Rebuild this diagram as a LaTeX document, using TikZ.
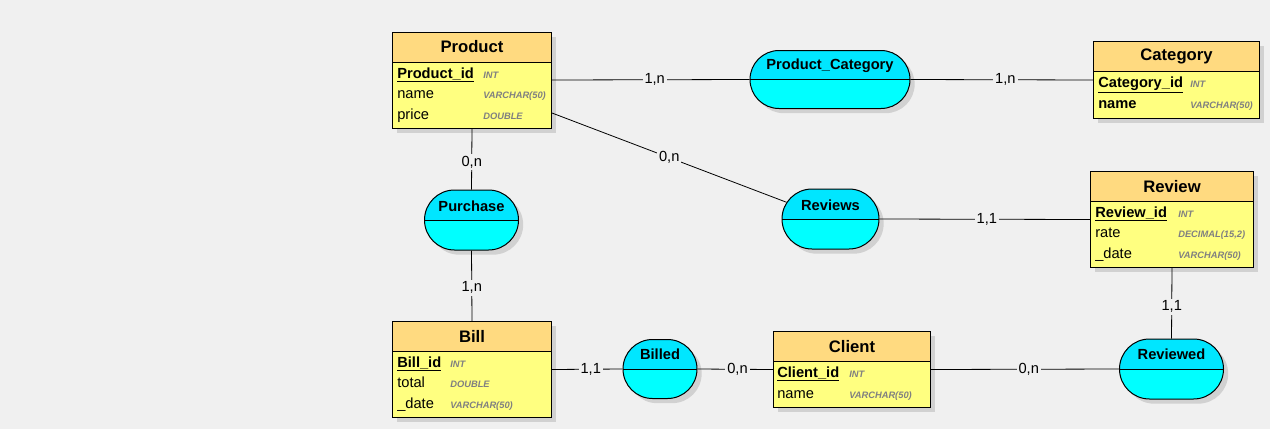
\documentclass[tikz,border=0pt]{standalone}
\usepackage{fontspec}
\setmainfont{Liberation Sans}
\usetikzlibrary{positioning,shapes.misc,shadows}
\definecolor{bgc}{RGB}{240,240,240}
\definecolor{headc}{RGB}{255,218,128}
\definecolor{bodyc}{RGB}{255,255,128}
\definecolor{reltop}{RGB}{0,230,255}
\definecolor{relbot}{RGB}{0,255,255}
\definecolor{typec}{RGB}{128,128,128}

\begin{document}
\begin{tikzpicture}[x=0.75pt,y=-0.75pt,
  entity/.style={rectangle, draw, fill=bodyc, anchor=north west, inner sep=0pt, line width=0.75pt,
    drop shadow={shadow xshift=3.5pt,shadow yshift=-3.5pt,fill=black!18,opacity=1}},
  enthead/.style={rectangle, draw, fill=headc, anchor=north, inner sep=0pt, minimum height=22.5pt,
    line width=0.75pt, font=\fontsize{12.5}{14}\selectfont\bfseries},
  rel/.style={rounded rectangle, draw, fill=relbot, inner sep=0pt, line width=0.75pt,
    drop shadow={shadow xshift=3.5pt,shadow yshift=-3.5pt,fill=black!18,opacity=1},
    path picture={\fill[reltop] (path picture bounding box.north west) rectangle (path picture bounding box.east);
      \draw[line width=0.75pt] (path picture bounding box.west) -- (path picture bounding box.east);}},
  reltext/.style={inner sep=0pt, font=\fontsize{11}{13}\selectfont\bfseries},
  attr/.style={anchor=base west, inner sep=0pt, font=\fontsize{11}{13}\selectfont},
  atype/.style={anchor=base west, inner sep=0pt, text=typec, font=\fontsize{7}{8}\selectfont\bfseries\itshape},
  card/.style={fill=bgc, inner sep=1.5pt, font=\fontsize{11}{13}\selectfont},
  link/.style={line width=0.6pt}]

\fill[bgc] (0,0) rectangle (1270,429);
\useasboundingbox (0,0) rectangle (1270,429);

% entities
\node[entity, minimum width=119.25pt, minimum height=72pt] (product) at (392,31.5) {};
\node[enthead, minimum width=119.25pt] (productH) at (product.north) {Product};
\node[attr] (productA1) at (397,78) {\textbf{\underline{Product\_id}}};
\node[attr] (productA2) at (397,98) {name};
\node[attr] (productA3) at (397,119) {price};
\node[atype] (productT1) at (483,78) {INT};
\node[atype] (productT2) at (483,98) {VARCHAR(50)};
\node[atype] (productT3) at (483,119) {DOUBLE};

\node[entity, minimum width=124.5pt, minimum height=57.75pt] (category) at (1093,41) {};
\node[enthead, minimum width=124.5pt] (categoryH) at (category.north) {Category};
\node[attr] (categoryA1) at (1098,87) {\textbf{\underline{Category\_id}}};
\node[attr] (categoryA2) at (1098,108) {\textbf{name}};
\node[atype] (categoryT1) at (1190,87) {INT};
\node[atype] (categoryT2) at (1190,108) {VARCHAR(50)};

\node[entity, minimum width=122.25pt, minimum height=72pt] (review) at (1090,171) {};
\node[enthead, minimum width=122.25pt] (reviewH) at (review.north) {Review};
\node[attr] (reviewA1) at (1095,217) {\textbf{\underline{Review\_id}}};
\node[attr] (reviewA2) at (1095,237) {rate};
\node[attr] (reviewA3) at (1095,258) {\_date};
\node[atype] (reviewT1) at (1178,217) {INT};
\node[atype] (reviewT2) at (1178,237) {DECIMAL(15,2)};
\node[atype] (reviewT3) at (1178,258) {VARCHAR(50)};

\node[entity, minimum width=119.25pt, minimum height=72pt] (bill) at (392,321) {};
\node[enthead, minimum width=119.25pt] (billH) at (bill.north) {Bill};
\node[attr] (billA1) at (397,367) {\textbf{\underline{Bill\_id}}};
\node[attr] (billA2) at (397,387) {total};
\node[attr] (billA3) at (397,408) {\_date};
\node[atype] (billT1) at (450,367) {INT};
\node[atype] (billT2) at (450,387) {DOUBLE};
\node[atype] (billT3) at (450,408) {VARCHAR(50)};

\node[entity, minimum width=117.75pt, minimum height=57pt] (client) at (773,331) {};
\node[enthead, minimum width=117.75pt] (clientH) at (client.north) {Client};
\node[attr] (clientA1) at (777,377) {\textbf{\underline{Client\_id}}};
\node[attr] (clientA2) at (777,398) {name};
\node[atype] (clientT1) at (849,377) {INT};
\node[atype] (clientT2) at (849,398) {VARCHAR(50)};

% relations
\node[rel, minimum width=120pt, minimum height=43.5pt] (prodcat) at (830,79.5) {};
\node[reltext] (prodcatT) at (830,65.5) {Product\_Category};
\node[rel, minimum width=70.5pt, minimum height=45pt] (purchase) at (471.5,220) {};
\node[reltext] (purchaseT) at (471.5,206) {Purchase};
\node[rel, minimum width=72.75pt, minimum height=45pt] (reviews) at (830.5,219) {};
\node[reltext] (reviewsT) at (830.5,205) {Reviews};
\node[rel, minimum width=55.5pt, minimum height=44.25pt] (billed) at (660,369) {};
\node[reltext] (billedT) at (660,354) {Billed};
\node[rel, minimum width=78pt, minimum height=45pt] (reviewed) at (1171.5,369) {};
\node[reltext] (reviewedT) at (1171.5,354) {Reviewed};

% links
\draw[link] (product.east) -- node[card, pos=.52] {1,n} (prodcat.west);
\draw[link] (prodcat.east) -- node[card, pos=.52] {1,n} (category.west);
\draw[link] ([yshift=-24.75pt]product.east) -- node[card, pos=.5] {0,n} (reviews);
\draw[link] (reviews.east) -- node[card, pos=.51] {1,1} (review.west);
\draw[link] (product.south) -- node[card, pos=.55] {0,n} (purchase.north);
\draw[link] (purchase.south) -- node[card, pos=.53] {1,n} (bill.north);
\draw[link] (bill.east) -- node[card, pos=.55] {1,1} (billed.west);
\draw[link] (billed.east) -- node[card, pos=.53] {0,n} (client.west);
\draw[link] (client.east) -- node[card, pos=.52] {0,n} (reviewed.west);
\draw[link] (review.south) -- node[card, pos=.55] {1,1} (reviewed.north);

\end{tikzpicture}
\end{document}
